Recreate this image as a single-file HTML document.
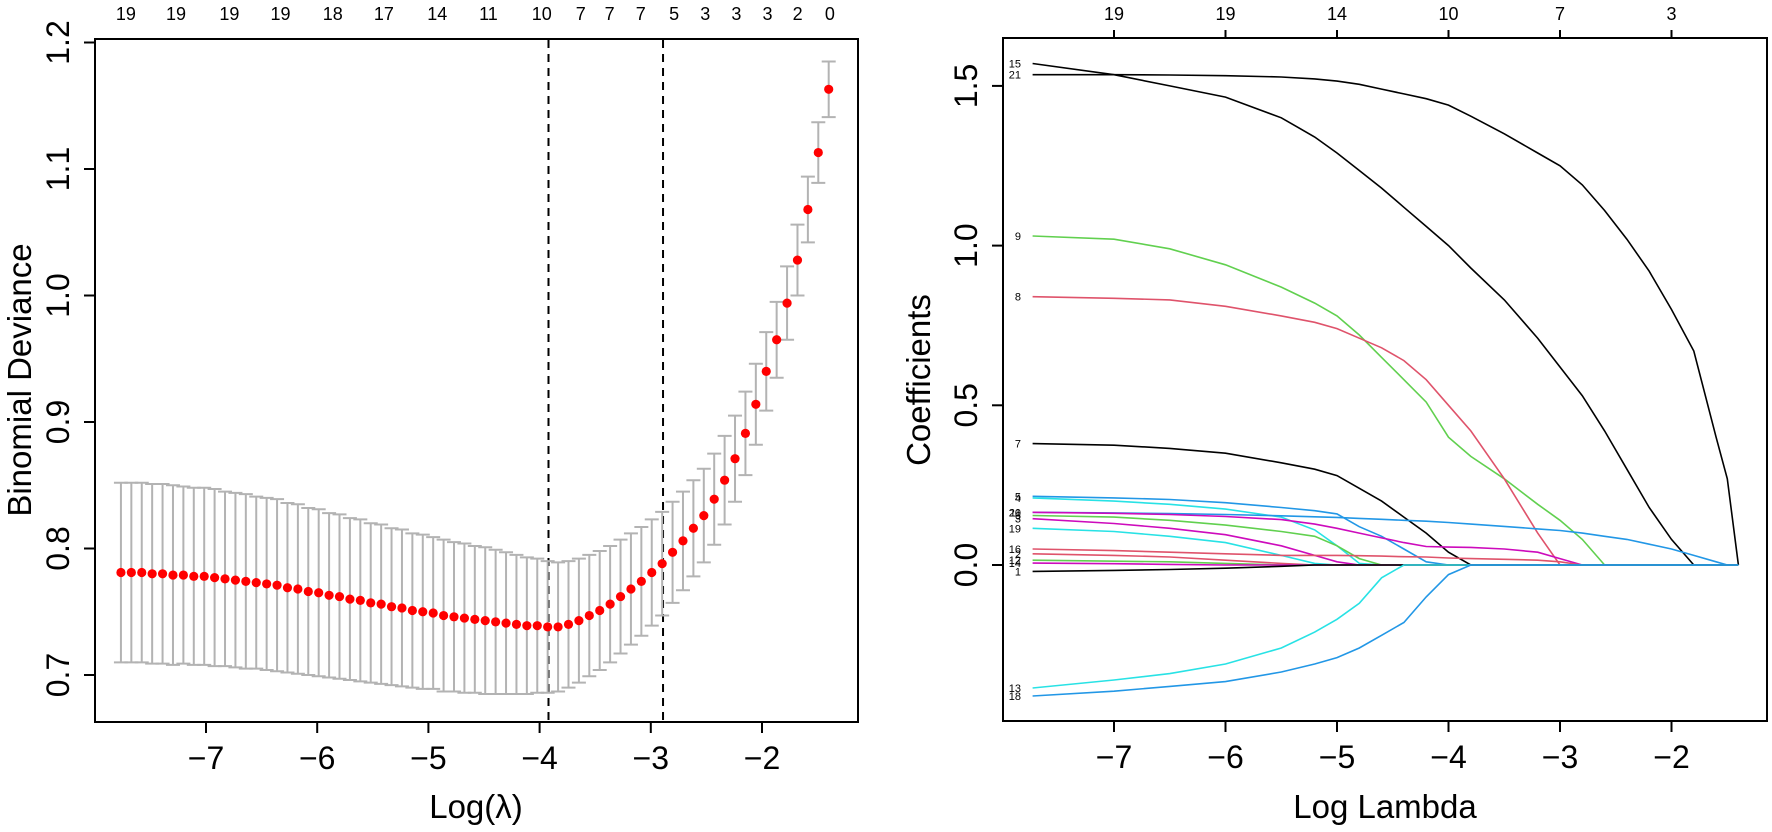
<!DOCTYPE html>
<html><head><meta charset="utf-8"><style>
html,body{margin:0;padding:0;background:#fff}
svg{display:block;font-family:"Liberation Sans",Arial,sans-serif}
</style></head><body>
<svg id="c" width="1772" height="832" viewBox="0 0 1772 832" xmlns="http://www.w3.org/2000/svg">
<g id="left"></g>
<g id="right"></g>
</svg>
<script>
// ---------- Left chart data ----------
const cvLogLambdaStart = -7.765;
const cvLogLambdaStep = 0.0936;
const cvMean = [0.781,0.781,0.781,0.780,0.780,0.779,0.779,0.778,0.778,0.777,0.776,0.775,0.774,0.773,0.772,0.771,0.769,0.768,0.766,0.765,0.763,0.762,0.760,0.759,0.757,0.756,0.754,0.753,0.751,0.750,0.749,0.747,0.746,0.745,0.744,0.743,0.742,0.741,0.740,0.739,0.739,
0.738,0.738,0.740,0.743,0.747,0.751,0.756,0.762,0.768,0.774,0.781,0.788,
0.797,0.806,0.816,0.826,0.839,0.854,0.871,0.891,0.914,0.940,0.965,0.994,1.028,1.068,1.113,1.163];
const cvSe = [0.071,0.071,0.071,0.071,0.071,0.071,0.070,0.070,0.070,0.070,0.069,0.069,0.069,0.068,0.068,0.068,0.067,0.067,0.066,0.066,0.065,0.065,0.064,0.064,0.063,0.063,0.062,0.062,0.061,0.061,0.060,0.060,0.059,0.059,0.058,0.058,0.057,0.056,0.055,0.054,0.053,
0.052,0.051,0.050,0.049,0.048,0.047,0.046,0.045,0.044,0.043,0.042,0.041,
0.040,0.039,0.038,0.037,0.036,0.035,0.034,0.033,0.032,0.031,0.030,0.029,0.028,0.026,0.024,0.022];
const cvTopLabels = ["19","19","19","19","18","17","14","11","10","7","7","7","5","3","3","3","2","0"];
const cvTopLabelLogs = [-7.72,-7.27,-6.79,-6.33,-5.86,-5.40,-4.92,-4.46,-3.98,-3.63,-3.37,-3.09,-2.79,-2.51,-2.23,-1.95,-1.68,-1.39];
const cvXTicks = [-7,-6,-5,-4,-3,-2];
const cvYTicks = ["0.7","0.8","0.9","1.0","1.1","1.2"];
const cvLambdaMin = -3.92, cvLambda1se = -2.89;

// ---------- Right chart data ----------
const pathGrid = [-7.73,-7,-6.5,-6,-5.5,-5.2,-5,-4.8,-4.6,-4.4,-4.2,-4,-3.8,-3.5,-3.2,-3,-2.8,-2.6,-2.4,-2.2,-2,-1.8,-1.6,-1.5,-1.4];
const coef15 = [1.57,1.535,1.50,1.465,1.40,1.34,1.29,1.235,1.18,1.12,1.06,1.00,0.93,0.83,0.71,0.62,0.53,0.42,0.30,0.18,0.08,0,0,0,0];
const coef21 = [1.535,1.535,1.534,1.532,1.528,1.522,1.515,1.505,1.49,1.475,1.46,1.44,1.405,1.35,1.29,1.25,1.19,1.11,1.02,0.92,0.80,0.67,0.40,0.27,0];
const coef9 = [1.03,1.02,0.99,0.94,0.87,0.82,0.78,0.72,0.65,0.58,0.51,0.40,0.34,0.27,0.19,0.14,0.08,0,0,0,0,0,0,0,0];
const coef8 = [0.84,0.835,0.83,0.81,0.78,0.76,0.74,0.71,0.68,0.64,0.58,0.50,0.42,0.27,0.10,0,0,0,0,0,0,0,0,0,0];
const coef7 = [0.38,0.375,0.365,0.35,0.32,0.30,0.28,0.24,0.20,0.15,0.10,0.04,0,0,0,0,0,0,0,0,0,0,0,0,0];
const coef5 = [0.215,0.21,0.205,0.195,0.18,0.17,0.16,0.12,0.09,0.05,0.01,0,0,0,0,0,0,0,0,0,0,0,0,0,0];
const coef4 = [0.21,0.20,0.19,0.175,0.15,0.11,0.06,0.005,0,0,0,0,0,0,0,0,0,0,0,0,0,0,0,0,0];
const coef11 = [0.165,0.163,0.161,0.158,0.154,0.151,0.149,0.146,0.143,0.14,0.137,0.133,0.128,0.121,0.113,0.108,0.10,0.09,0.08,0.065,0.05,0.03,0.01,0,0];
const coef20 = [0.165,0.162,0.158,0.152,0.142,0.128,0.115,0.10,0.085,0.07,0.058,0.056,0.055,0.05,0.04,0.02,0,0,0,0,0,0,0,0,0];
const coef6 = [0.155,0.15,0.14,0.125,0.105,0.09,0.06,0.02,0,0,0,0,0,0,0,0,0,0,0,0,0,0,0,0,0];
const coef3 = [0.145,0.13,0.115,0.095,0.06,0.03,0.01,0,0,0,0,0,0,0,0,0,0,0,0,0,0,0,0,0,0];
const coef19 = [0.115,0.105,0.09,0.07,0.03,0.005,0,0,0,0,0,0,0,0,0,0,0,0,0,0,0,0,0,0,0];
const coef16 = [0.05,0.045,0.04,0.035,0.03,0.03,0.03,0.029,0.028,0.026,0.025,0.022,0.02,0.018,0.015,0.01,0,0,0,0,0,0,0,0,0];
const coef2 = [0.035,0.03,0.025,0.015,0.005,0,0,0,0,0,0,0,0,0,0,0,0,0,0,0,0,0,0,0,0];
const coef12 = [0.015,0.012,0.01,0.005,0,0,0,0,0,0,0,0,0,0,0,0,0,0,0,0,0,0,0,0,0];
const coef14 = [0.006,0.004,0.002,0,0,0,0,0,0,0,0,0,0,0,0,0,0,0,0,0,0,0,0,0,0];
const coef1 = [-0.02,-0.017,-0.014,-0.01,-0.004,0,0,0,0,0,0,0,0,0,0,0,0,0,0,0,0,0,0,0,0];
const coef13 = [-0.385,-0.36,-0.34,-0.31,-0.26,-0.21,-0.17,-0.12,-0.04,0,0,0,0,0,0,0,0,0,0,0,0,0,0,0,0];
const coef18 = [-0.41,-0.395,-0.38,-0.365,-0.335,-0.31,-0.29,-0.26,-0.22,-0.18,-0.10,-0.03,0,0,0,0,0,0,0,0,0,0,0,0,0];
const pathVarNames = ["15","21","9","8","7","5","4","11","20","6","3","19","16","2","12","14","1","13","18"];
const pathSeries = [coef15,coef21,coef9,coef8,coef7,coef5,coef4,coef11,coef20,coef6,coef3,coef19,coef16,coef2,coef12,coef14,coef1,coef13,coef18];
const pathColors = ["#000","#000","#61D04F","#DF536B","#000","#2297E6","#28E2E5","#2297E6","#CD0BBC","#61D04F","#CD0BBC","#28E2E5","#DF536B","#DF536B","#61D04F","#CD0BBC","#000","#28E2E5","#2297E6"];
const pathTopLabels = ["19","19","14","10","7","3"];
const pathXTicks = [-7,-6,-5,-4,-3,-2];
const pathYTicks = ["0.0","0.5","1.0","1.5"];

const NS="http://www.w3.org/2000/svg";
function mk(parent,tag,attrs,text){const e=document.createElementNS(NS,tag);for(const k in attrs)e.setAttribute(k,attrs[k]);if(text!==undefined)e.textContent=text;parent.appendChild(e);return e;}

// ----- Left -----
const L=document.getElementById('left');
const lx=v=>206+(v+7)*111.2;
const ly=v=>675-(v-0.7)*1265;
let e;
e=mk(L,'rect',{x:95,y:39,width:763,height:683,fill:'none',stroke:'#000','stroke-width':2});

cvXTicks.forEach(t=>{
  e=mk(L,'line',{x1:lx(t),x2:lx(t),y1:722,y2:733,stroke:'#000','stroke-width':2});
  
  e=mk(L,'text',{x:lx(t),y:769,'font-size':32,'text-anchor':'middle'},'\u2212'+Math.abs(t));
  
});
cvYTicks.forEach(t=>{
  const y=ly(parseFloat(t));
  e=mk(L,'line',{x1:84,x2:95,y1:y,y2:y,stroke:'#000','stroke-width':2});
  
  e=mk(L,'text',{x:0,y:0,'font-size':32,'text-anchor':'middle',transform:`translate(69,${y}) rotate(-90)`},t);
  
});
e=mk(L,'text',{x:0,y:0,'font-size':33,'text-anchor':'middle',transform:'translate(31,380) rotate(-90)'},'Binomial Deviance');

e=mk(L,'text',{x:476,y:818,'font-size':33,'text-anchor':'middle'},'Log(\u03bb)');

cvTopLabels.forEach((t,i)=>{
  e=mk(L,'text',{x:lx(cvTopLabelLogs[i]),y:20,'font-size':18,'text-anchor':'middle'},t);
  
});
[cvLambdaMin,cvLambda1se].forEach(v=>{
  e=mk(L,'line',{x1:lx(v),x2:lx(v),y1:40,y2:721,stroke:'#000','stroke-width':2,'stroke-dasharray':'8,6'});
  
});
cvMean.forEach((m,i)=>{
  const x=lx(cvLogLambdaStart+i*cvLogLambdaStep);
  const yu=ly(m+cvSe[i]), yl=ly(m-cvSe[i]);
  e=mk(L,'path',{d:`M${x},${yu}V${yl}M${x-7},${yu}H${x+7}M${x-7},${yl}H${x+7}`,stroke:'#b3b3b3','stroke-width':2,fill:'none'});
  
});
cvMean.forEach((m,i)=>{
  const x=lx(cvLogLambdaStart+i*cvLogLambdaStep);
  e=mk(L,'circle',{cx:x,cy:ly(m),r:4.6,fill:'#ff0000'});
  
});

// ----- Right -----
const R=document.getElementById('right');
const rx=v=>1114+(v+7)*111.5;
const ry=v=>565-v*319.4;
e=mk(R,'rect',{x:1003,y:38,width:764,height:683,fill:'none',stroke:'#000','stroke-width':2});

pathXTicks.forEach((t,i)=>{
  e=mk(R,'line',{x1:rx(t),x2:rx(t),y1:721,y2:732,stroke:'#000','stroke-width':2});
  
  e=mk(R,'text',{x:rx(t),y:768,'font-size':32,'text-anchor':'middle'},'\u2212'+Math.abs(t));
  
  e=mk(R,'line',{x1:rx(t),x2:rx(t),y1:38,y2:30,stroke:'#000','stroke-width':2});
  
  e=mk(R,'text',{x:rx(t),y:20,'font-size':18,'text-anchor':'middle'},pathTopLabels[i]);
  
});
pathYTicks.forEach(t=>{
  const y=ry(parseFloat(t));
  e=mk(R,'line',{x1:992,x2:1003,y1:y,y2:y,stroke:'#000','stroke-width':2});
  
  e=mk(R,'text',{x:0,y:0,'font-size':32,'text-anchor':'middle',transform:`translate(977,${y}) rotate(-90)`},t);
  
});
e=mk(R,'text',{x:0,y:0,'font-size':33,'text-anchor':'middle',transform:'translate(930,380) rotate(-90)'},'Coefficients');

e=mk(R,'text',{x:1385,y:818,'font-size':33,'text-anchor':'middle'},'Log Lambda');

pathSeries.forEach((s,k)=>{
  const d=s.map((v,i)=>(i?'L':'M')+rx(pathGrid[i]).toFixed(1)+','+ry(v).toFixed(1)).join('');
  e=mk(R,'path',{d:d,stroke:pathColors[k],'stroke-width':1.6,fill:'none'});
  
  e=mk(R,'text',{x:1021,y:ry(s[0])+4,'font-size':11,'text-anchor':'end'},pathVarNames[k]);
  
});
</script>
</body></html>
